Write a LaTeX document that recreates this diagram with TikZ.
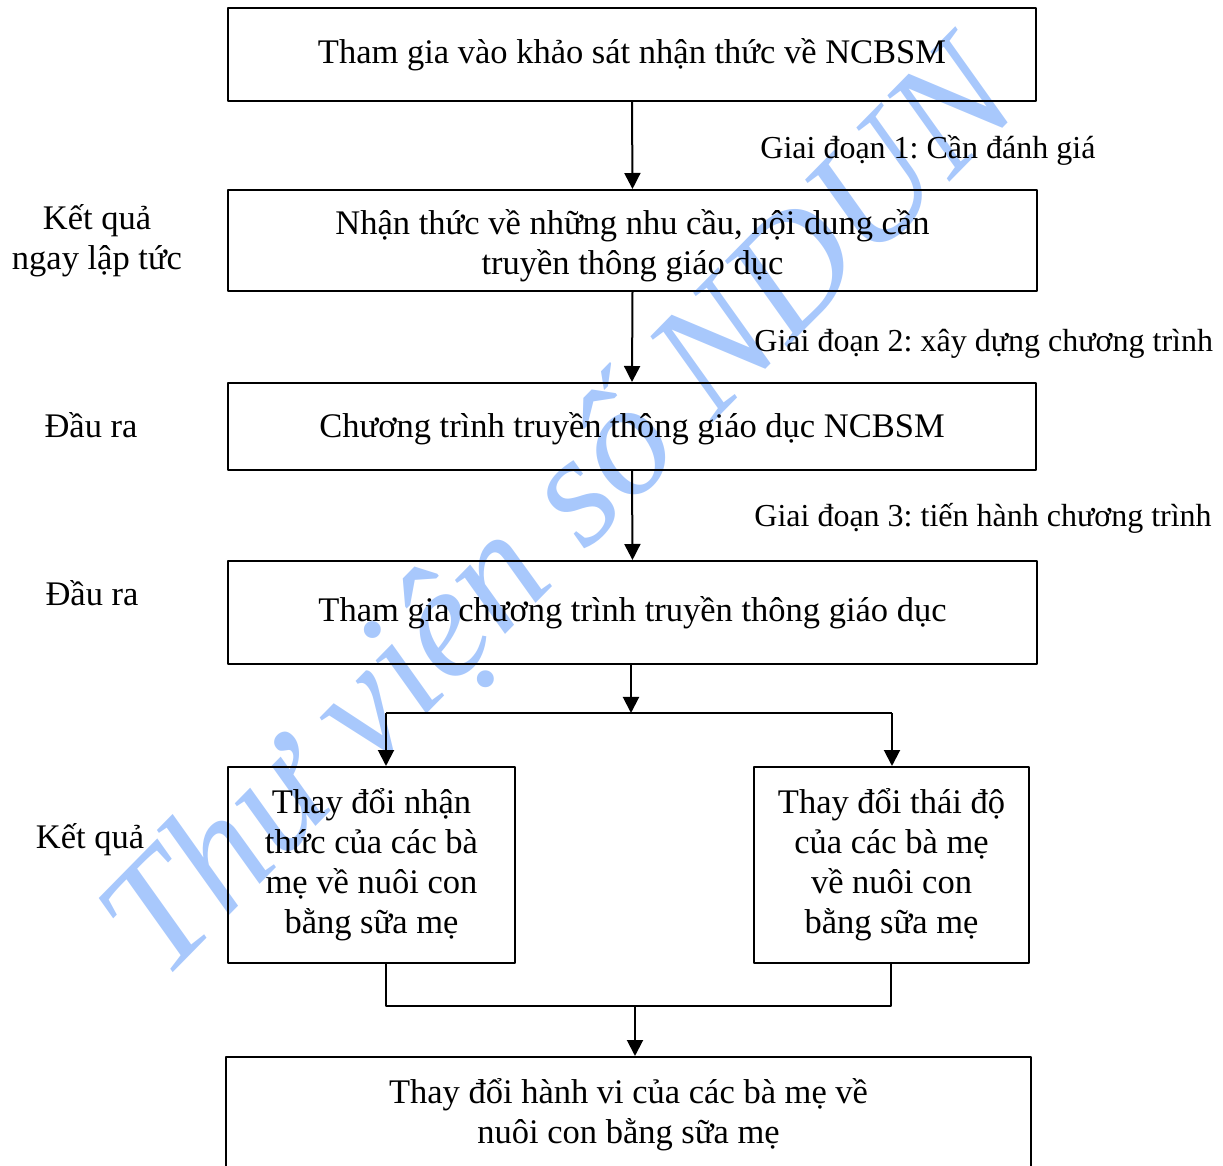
\documentclass[tikz,border=0pt]{standalone}
\usepackage{fontspec}
\setmainfont{Liberation Serif}
\usepackage{tikz}
\usetikzlibrary{arrows.meta}
\definecolor{markBlue}{RGB}{168,200,252}
\frenchspacing

\begin{document}
\begin{tikzpicture}[x=0.5pt, y=-0.5pt, line join=round,
  box/.style={draw, line width=1pt, align=center, inner sep=0pt,
    font=\fontsize{17.25}{20}\selectfont},
  side/.style={align=center, inner sep=0pt, font=\fontsize{17.25}{20}\selectfont},
  stage/.style={anchor=base west, inner sep=0pt, font=\fontsize{16}{19}\selectfont},
  arr/.style={line width=1pt, -{Triangle[length=8pt, width=8pt]}}]
\useasboundingbox (0,0) rectangle (1223,1166);
\clip (0,0) rectangle (1223,1166);
% watermark
\node[anchor=base, rotate=45.5, inner sep=0pt, text=markBlue,
  font=\fontsize{80}{96}\selectfont\itshape] (mark) at (594,544) {Thư viện số NDUN};
% boxes
\node[box, minimum width=404pt, minimum height=46.5pt] (b1) at (632,54.5) {Tham gia vào khảo sát nhận thức về NCBSM};
\node[box, minimum width=404.5pt, minimum height=50.5pt] (b2) at (632.5,240.5) {\rule{0pt}{18pt}Nhận thức về những nhu cầu, nội dung cần\\truyền thông giáo dục};
\node[box, minimum width=404pt, minimum height=43.5pt] (b3) at (632,426.5) {\rule{0pt}{15pt}Chương trình truyền thông giáo dục NCBSM};
\node[box, minimum width=404.5pt, minimum height=51.5pt] (b4) at (632.5,612.5) {Tham gia chương trình truyền thông giáo dục};
\node[box, minimum width=143.5pt, minimum height=98pt] (b5) at (371.5,865) {Thay đổi nhận\\thức của các bà\\mẹ về nuôi con\\bằng sữa mẹ};
\node[box, minimum width=137.5pt, minimum height=98pt] (b6) at (891.5,865) {Thay đổi thái độ\\của các bà mẹ\\về nuôi con\\bằng sữa mẹ};
\node[box, minimum width=402.5pt, minimum height=58pt] (b7) at (628.5,1115) {Thay đổi hành vi của các bà mẹ về\\nuôi con bằng sữa mẹ};
% side labels
\node[side] (kq1) at (97,241) {Kết quả\\ngay lập tức};
\node[side] (dr1) at (91,425) {Đầu ra};
\node[side] (dr2) at (92,593) {Đầu ra};
\node[side] (kq2) at (90,840) {Kết quả};
% stage labels
\node[stage] (gd1) at (760,159) {Giai đoạn 1: Cần đánh giá};
\node[stage] (gd2) at (754,352) {Giai đoạn 2: xây dựng chương trình};
\node[stage] (gd3) at (754,527) {Giai đoạn 3: tiến hành chương trình};
% junctions
\coordinate (jm) at (631,713);
\coordinate (jl) at (386,713);
\coordinate (jr) at (892,713);
\coordinate (ml) at (386,1006);
\coordinate (mr) at (891,1006);
\coordinate (mm) at (635,1006);
% connectors
\draw[arr] (b1.south) -- (b2.north);
\draw[arr] (b2.south) -- (b3.north);
\draw[arr] (b3.south) -- (b4.north);
\draw[arr] (b4.south -| jm) -- (jm);
\draw[line width=1pt] (jl) -- (jr);
\draw[arr] (jl) -- (jl |- b5.north);
\draw[arr] (jr) -- (jr |- b6.north);
\draw[line width=1pt] (ml |- b5.south) -- (ml) -- (mr) -- (mr |- b6.south);
\draw[arr] (mm) -- (mm |- b7.north);
\end{tikzpicture}
\end{document}
